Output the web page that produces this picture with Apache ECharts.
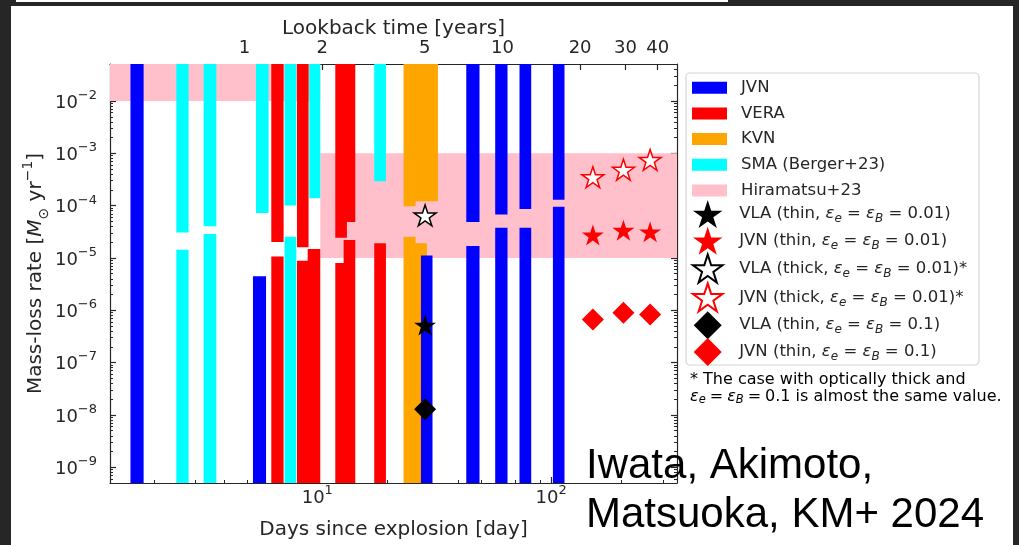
<!DOCTYPE html>
<html>
<head>
<meta charset="utf-8">
<script src="https://cdn.jsdelivr.net/npm/echarts@6/dist/echarts.min.js"></script>
<style>
  html, body { margin: 0; padding: 0; background: #ffffff; }
  #chart { width: 1019px; height: 545px; }
</style>
</head>
<body>
<div id="chart"></div>
<script>
// ---- axis ranges and tick labels ----
const DAY_MIN = 1.30, DAY_MAX = 345;           // days since explosion
const RATE_MIN = 5e-10, RATE_MAX = 5.1e-2;     // mass-loss rate [Msun/yr]
const LOOKBACK_MIN = 0.301, LOOKBACK_MAX = 47.5; // lookback time [years]
const dayMajorTicks = [10, 100];
const rateMajorTicks = [1e-9, 1e-8, 1e-7, 1e-6, 1e-5, 1e-4, 1e-3, 1e-2];
const lookbackTicks = [1, 2, 5, 10, 20, 30, 40];

// open-ended sides of an excluded range
const FLOOR = 1e-11, CEIL = 1;

// excluded ranges: [day start, day end, rate low, rate high]
const jvnBars = [
  [1.59, 1.81, FLOOR, CEIL],
  [5.31, 6.04, FLOOR, 4.46e-6],
  [27.75, 31.09, FLOOR, 1.12e-5],
  [43.35, 49.38, FLOOR, 1.70e-5], [43.35, 49.38, 4.86e-5, CEIL],
  [57.63, 65.06, FLOOR, 3.80e-5], [57.63, 65.06, 6.78e-5, CEIL],
  [73.20, 82.14, FLOOR, 3.80e-5], [73.20, 82.14, 8.63e-5, CEIL],
  [101.7, 114.0, FLOOR, 9.57e-5], [101.7, 114.0, 1.30e-4, CEIL]
];
const veraBars = [
  [6.36, 7.18, FLOOR, 1.07e-5], [6.36, 7.18, 2.02e-5, CEIL],
  [8.19, 9.18, FLOOR, 8.89e-6], [8.19, 9.18, 1.60e-5, CEIL],
  [9.10, 10.30, FLOOR, 1.49e-5],
  [11.94, 13.39, FLOOR, 8.02e-6], [11.94, 13.39, 2.44e-5, CEIL],
  [12.96, 14.54, FLOOR, 2.20e-5], [12.96, 14.54, 4.86e-5, CEIL],
  [17.52, 19.66, FLOOR, 1.91e-5]
];
const kvnBars = [
  [23.38, 26.31, FLOOR, 2.54e-5], [23.38, 26.31, 9.70e-5, CEIL],
  [25.90, 29.43, FLOOR, 1.91e-5],
  [25.90, 32.80, 1.21e-4, CEIL]
];
const smaBars = [
  [2.497, 2.818, FLOOR, 1.43e-5], [2.497, 2.818, 3.06e-5, CEIL],
  [3.267, 3.702, FLOOR, 2.86e-5], [3.267, 3.702, 4.03e-5, CEIL],
  [5.47, 6.194, 7.26e-5, CEIL],
  [7.25, 8.136, FLOOR, 2.54e-5], [7.25, 8.136, 1.01e-4, CEIL],
  [9.244, 10.30, 1.39e-4, CEIL],
  [17.52, 19.66, 2.94e-4, CEIL]
];
const hiramatsuBands = [
  [1.0, 10.30, 1e-2, CEIL],
  [10.30, 1000, 1e-5, 1e-3]
];

// estimated mass-loss rates: [day, rate]
const vlaThin001 = [[28.9, 5.2e-7]];
const jvnThin001 = [[150.7, 2.74e-5], [203.6, 3.40e-5], [264.8, 3.15e-5]];
const vlaThick001 = [[28.9, 6.5e-5]];
const jvnThick001 = [[150.7, 3.5e-4], [203.6, 4.86e-4], [264.8, 7.5e-4]];
const vlaThin01 = [[28.9, 1.29e-8]];
const jvnThin01 = [[150.7, 6.7e-7], [203.6, 9.0e-7], [264.8, 8.3e-7]];

// ---- helpers ----
const FONT = 'DejaVu Sans';
const INK = '#262626';

function starSymbol() {
  const pts = [];
  for (let i = 0; i < 10; i++) {
    const r = i % 2 === 0 ? 1 : 0.381966;
    const a = -Math.PI / 2 + i * Math.PI / 5;
    pts.push((r * Math.cos(a)).toFixed(4) + ',' + (r * Math.sin(a)).toFixed(4));
  }
  return 'path://M' + pts.join('L') + 'Z';
}
const STAR = starSymbol();
const DIAMOND = 'path://M0,-1L1,0L0,1L-1,0Z';

function minorTicks(lo, hi) {
  const out = [];
  for (let e = Math.floor(Math.log10(lo)) - 1; e <= Math.ceil(Math.log10(hi)); e++) {
    for (let k = 2; k <= 9; k++) {
      const v = k * Math.pow(10, e);
      if (v > lo && v < hi) out.push(v);
    }
  }
  return out;
}

function rectItem(params, api) {
  const p0 = api.coord([api.value(0), api.value(3)]);
  const p1 = api.coord([api.value(1), api.value(2)]);
  const cs = params.coordSys;
  const shape = echarts.graphic.clipRectByRect(
    { x: p0[0], y: p0[1], width: p1[0] - p0[0], height: p1[1] - p0[1] },
    { x: cs.x, y: cs.y, width: cs.width, height: cs.height }
  );
  return shape && { type: 'rect', shape: shape, style: { fill: api.visual('color') } };
}

function rectSeries(name, color, data) {
  return {
    type: 'custom', name: name, xAxisIndex: 0, yAxisIndex: 0,
    renderItem: rectItem,
    itemStyle: { color: color },
    dimensions: ['d0', 'd1', 'lo', 'hi'],
    encode: { x: [0, 1], y: [2, 3] },
    data: data,
    silent: true
  };
}

function markSeries(name, data, symbol, size, fill, edge, edgeWidth) {
  return {
    type: 'scatter', name: name, xAxisIndex: 0, yAxisIndex: 0,
    data: data, symbol: symbol, symbolSize: size, symbolKeepAspect: true,
    itemStyle: { color: fill, borderColor: edge, borderWidth: edgeWidth, opacity: 1 },
    silent: true, z: 5
  };
}

// power-of-ten tick labels: base digits with a raised exponent
const powRich = {
  b: { fontFamily: FONT, fontSize: 18, color: INK, lineHeight: 24, padding: [4, 0, 0, 0] },
  s: { fontFamily: FONT, fontSize: 13, color: INK, lineHeight: 13, verticalAlign: 'top' }
};
function powLabel(v) {
  const e = Math.round(Math.log10(v));
  return '{b|10}{s|' + (e < 0 ? '\u2212' + (-e) : e) + '}';
}

const legRich = {
  t: { fontFamily: FONT, fontSize: 16.5, color: INK, lineHeight: 22 },
  i: { fontFamily: FONT, fontSize: 16.5, color: INK, lineHeight: 22, fontStyle: 'italic' },
  sub: { fontFamily: FONT, fontSize: 12, color: INK, lineHeight: 12, fontStyle: 'italic', verticalAlign: 'bottom' },
  sp: { width: 9 }
};
function epsText(prefix, val, suffix) {
  return '{t|' + prefix + '}{i|\u03b5}{sub|e}{t| = }{i|\u03b5}{sub|B}{t| = ' + val + ')' + suffix + '}';
}
const legendText = {
  'VLA (thin, 0.01)': epsText('VLA (thin, ', '0.01', ''),
  'JVN (thin, 0.01)': epsText('JVN (thin, ', '0.01', ''),
  'VLA (thick, 0.01)': epsText('VLA (thick, ', '0.01', '*'),
  'JVN (thick, 0.01)': epsText('JVN (thick, ', '0.01', '*'),
  'VLA (thin, 0.1)': epsText('VLA (thin, ', '0.1', ''),
  'JVN (thin, 0.1)': epsText('JVN (thin, ', '0.1', '')
};

const axisLine = { show: true, lineStyle: { color: INK, width: 1.2 } };

const chart = echarts.init(document.getElementById('chart'), null, { renderer: 'canvas' });

chart.setOption({
  backgroundColor: '#ffffff',
  animation: false,
  grid: { left: 110, top: 64, width: 567, height: 424, containLabel: false },
  xAxis: [
    {
      type: 'log', position: 'bottom', min: DAY_MIN, max: DAY_MAX,
      axisLine: axisLine,
      axisTick: { show: true, inside: true, length: 6, lineStyle: { color: INK, width: 1.2 }, customValues: dayMajorTicks },
      axisLabel: { customValues: dayMajorTicks, margin: 1, formatter: powLabel, rich: powRich },
      splitLine: { show: false },
      name: 'Days since explosion [day]', nameLocation: 'middle', nameGap: 37, nameMoveOverlap: false,
      nameTextStyle: { fontFamily: FONT, fontSize: 20, color: INK }
    },
    {
      type: 'log', position: 'bottom', min: DAY_MIN, max: DAY_MAX,
      axisLine: { show: false },
      axisTick: { show: true, inside: true, length: 3, lineStyle: { color: INK, width: 1 }, customValues: minorTicks(DAY_MIN, DAY_MAX) },
      axisLabel: { show: false }, splitLine: { show: false }
    },
    {
      type: 'log', position: 'top', min: LOOKBACK_MIN, max: LOOKBACK_MAX,
      axisLine: axisLine,
      axisTick: { show: true, inside: true, length: 6, lineStyle: { color: INK, width: 1.2 }, customValues: lookbackTicks },
      axisLabel: { customValues: lookbackTicks, margin: 7, fontFamily: FONT, fontSize: 18, color: INK },
      splitLine: { show: false },
      name: 'Lookback time [years]', nameLocation: 'middle', nameGap: 25, nameMoveOverlap: false,
      nameTextStyle: { fontFamily: FONT, fontSize: 20, color: INK }
    }
  ],
  yAxis: [
    {
      type: 'log', position: 'left', min: RATE_MIN, max: RATE_MAX,
      axisLine: axisLine,
      axisTick: { show: true, inside: true, length: 6, lineStyle: { color: INK, width: 1.2 }, customValues: rateMajorTicks },
      axisLabel: { customValues: rateMajorTicks, margin: 13, formatter: powLabel, rich: powRich },
      splitLine: { show: false },
      name: '{t|Mass-loss rate [}{m|M}{sub|\u2299}{t| yr}{sup|\u22121}{t|]}',
      nameLocation: 'middle', nameGap: 59, nameRotate: 90, nameMoveOverlap: false,
      nameTextStyle: {
        rich: {
          t: { fontFamily: FONT, fontSize: 20, color: INK, lineHeight: 30 },
          m: { fontFamily: FONT, fontSize: 20, color: INK, lineHeight: 30, fontStyle: 'italic' },
          sub: { fontFamily: FONT, fontSize: 14, color: INK, lineHeight: 14, verticalAlign: 'bottom' },
          sup: { fontFamily: FONT, fontSize: 14, color: INK, lineHeight: 14, verticalAlign: 'top' }
        }
      }
    },
    {
      type: 'log', position: 'left', min: RATE_MIN, max: RATE_MAX,
      axisLine: { show: false },
      axisTick: { show: true, inside: true, length: 3, lineStyle: { color: INK, width: 1 }, customValues: minorTicks(RATE_MIN, RATE_MAX) },
      axisLabel: { show: false }, splitLine: { show: false }
    },
    {
      type: 'log', position: 'right', min: RATE_MIN, max: RATE_MAX,
      axisLine: axisLine,
      axisTick: { show: true, inside: true, length: 6, lineStyle: { color: INK, width: 1.2 }, customValues: rateMajorTicks },
      axisLabel: { show: false }, splitLine: { show: false }
    },
    {
      type: 'log', position: 'right', min: RATE_MIN, max: RATE_MAX,
      axisLine: { show: false },
      axisTick: { show: true, inside: true, length: 3, lineStyle: { color: INK, width: 1 }, customValues: minorTicks(RATE_MIN, RATE_MAX) },
      axisLabel: { show: false }, splitLine: { show: false }
    }
  ],
  legend: [
    {
      orient: 'vertical', left: 692, top: 79.2, padding: 0,
      itemWidth: 35, itemHeight: 12, itemGap: 8.7, selectedMode: false,
      textStyle: { rich: legRich },
      formatter: function (name) { return '{sp|}{t|' + name + '}'; },
      data: [
        { name: 'JVN', icon: 'rect' },
        { name: 'VERA', icon: 'rect' },
        { name: 'KVN', icon: 'rect' },
        { name: 'SMA (Berger+23)', icon: 'rect' },
        { name: 'Hiramatsu+23', icon: 'rect' }
      ]
    },
    {
      orient: 'vertical', left: 692, top: 200, padding: 0,
      itemWidth: 35, itemHeight: 28, itemGap: -1.2, selectedMode: false,
      textStyle: { rich: legRich },
      formatter: function (name) { return '{sp|}' + legendText[name]; },
      data: [
        { name: 'VLA (thin, 0.01)', icon: STAR },
        { name: 'JVN (thin, 0.01)', icon: STAR },
        { name: 'VLA (thick, 0.01)', icon: STAR },
        { name: 'JVN (thick, 0.01)', icon: STAR },
        { name: 'VLA (thin, 0.1)', icon: DIAMOND },
        { name: 'JVN (thin, 0.1)', icon: DIAMOND }
      ]
    }
  ],
  series: [
    rectSeries('Hiramatsu+23', '#ffc0cb', hiramatsuBands),
    rectSeries('KVN', '#ffa500', kvnBars),
    rectSeries('VERA', '#ff0000', veraBars),
    rectSeries('SMA (Berger+23)', '#00ffff', smaBars),
    rectSeries('JVN', '#0000ff', jvnBars),
    markSeries('VLA (thin, 0.01)', vlaThin001, STAR, 22, '#000000', '#000000', 0),
    markSeries('JVN (thin, 0.01)', jvnThin001, STAR, 22, '#ff0000', '#ff0000', 0),
    markSeries('VLA (thick, 0.01)', vlaThick001, STAR, 22, '#ffffff', '#000000', 1.5),
    markSeries('JVN (thick, 0.01)', jvnThick001, STAR, 22, '#ffffff', '#ff0000', 1.5),
    markSeries('VLA (thin, 0.1)', vlaThin01, DIAMOND, 22, '#000000', '#000000', 0),
    markSeries('JVN (thin, 0.1)', jvnThin01, DIAMOND, 22, '#ff0000', '#ff0000', 0)
  ],
  graphic: [
    // slide frame
    { type: 'rect', shape: { x: 0, y: 0, width: 11, height: 545 }, style: { fill: '#262626' }, z: 10, silent: true },
    { type: 'rect', shape: { x: 0, y: 0, width: 1019, height: 6 }, style: { fill: '#262626' }, z: 10, silent: true },
    { type: 'rect', shape: { x: 16, y: 0, width: 712, height: 2 }, style: { fill: '#ffffff' }, z: 11, silent: true },
    { type: 'rect', shape: { x: 1013, y: 0, width: 6, height: 545 }, style: { fill: '#262626' }, z: 10, silent: true },
    // legend frame
    { type: 'rect', shape: { x: 686, y: 73, width: 293, height: 292, r: 4 }, style: { fill: '#ffffff', stroke: '#d6d6d6', lineWidth: 1.2 }, z: 0, silent: true },
    // footnote
    {
      type: 'text', left: 690, top: 371.5, silent: true,
      style: { text: '{t|* The case with optically thick and}', rich: { t: { fontFamily: FONT, fontSize: 16, color: INK, lineHeight: 19 } } }
    },
    {
      type: 'text', left: 690, top: 388.5, silent: true,
      style: {
        text: '{i|\u03b5}{sub|e}{t|\u2005=\u2005}{i|\u03b5}{sub|B}{t|\u2005=\u20050.1 is almost the same value.}',
        rich: {
          t: { fontFamily: FONT, fontSize: 16, color: INK, lineHeight: 20 },
          i: { fontFamily: FONT, fontSize: 16, color: INK, lineHeight: 20, fontStyle: 'italic' },
          sub: { fontFamily: FONT, fontSize: 11.5, color: INK, lineHeight: 11, fontStyle: 'italic', verticalAlign: 'bottom' }
        }
      }
    },
    // citation
    {
      type: 'text', left: 586, top: 445, silent: true, z: 20,
      style: { text: 'Iwata, Akimoto,', fontFamily: 'Liberation Sans', fontSize: 42, fill: '#000000' }
    },
    {
      type: 'text', left: 586, top: 494, silent: true, z: 20,
      style: { text: 'Matsuoka, KM+ 2024', fontFamily: 'Liberation Sans', fontSize: 42, fill: '#000000' }
    }
  ]
});
</script>
</body>
</html>
